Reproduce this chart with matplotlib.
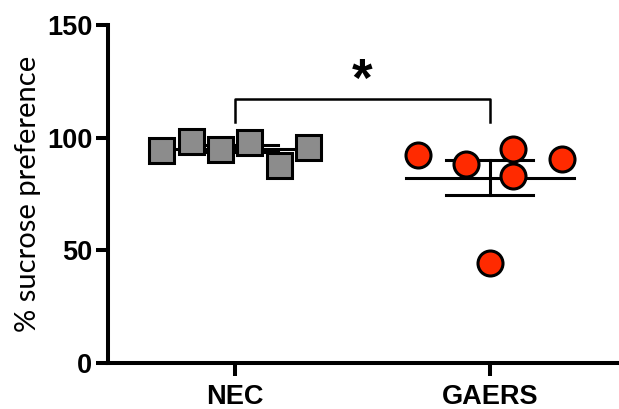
import numpy as np
import matplotlib.pyplot as plt

groups = ["NEC", "GAERS"]
nec = [94.7, 98.4, 95.0, 98.1, 88.0, 95.7]
gaers = [92.4, 88.4, 94.8, 82.8, 90.7, 44.3]
nec_offsets = [-0.29, -0.173, -0.059, 0.056, 0.171, 0.285]
gaers_offsets = [-0.283, -0.095, 0.093, 0.093, 0.283, 0.0]

fig = plt.figure(figsize=(6.19, 4.09), dpi=100)
ax = fig.add_axes([0.174, 0.1125, 0.823, 0.8265])

tickfont = dict(family="Liberation Sans", weight="bold", size=19.5)

# mean +/- SEM lines, drawn under the points
for i, vals in enumerate([nec, gaers]):
    v = np.array(vals)
    m = v.mean()
    sem = v.std(ddof=1) / np.sqrt(len(v))
    ax.plot([i - 0.33, i + 0.33], [m, m], color="black", lw=2.2, zorder=2)
    ax.plot([i, i], [m - sem, m + sem], color="black", lw=2.2, zorder=2)
    for y in (m - sem, m + sem):
        ax.plot([i - 0.17, i + 0.17], [y, y], color="black", lw=2.2, zorder=2)

ax.plot(np.array(nec_offsets), nec, linestyle="none", marker="s", ms=18,
        mfc="#8c8c8c", mec="black", mew=2.2, zorder=3)
ax.plot(1 + np.array(gaers_offsets), gaers, linestyle="none", marker="o", ms=18,
        mfc="#ff2a00", mec="black", mew=2.2, zorder=3)

# significance bracket
ax.plot([0, 0, 1, 1], [107, 117.3, 117.3, 107], color="black", lw=1.8,
        clip_on=False)
ax.text(0.5, 124.5, "*", ha="center", va="center", fontsize=38,
        fontweight="bold", family="Liberation Sans")

ax.set_xlim(-0.5, 1.5)
ax.set_ylim(0, 150)
ax.set_yticks([0, 50, 100, 150])
ax.set_xticks([0, 1])
ax.set_xticklabels(groups, fontdict=tickfont)
ax.set_yticklabels(["0", "50", "100", "150"], fontdict=tickfont)
ax.tick_params(axis="both", width=2.9, length=9, pad=2)
ax.tick_params(axis="x", pad=6)

for s in ["top", "right"]:
    ax.spines[s].set_visible(False)
for s in ["left", "bottom"]:
    ax.spines[s].set_linewidth(2.9)

ax.set_ylabel("% sucrose preference", fontsize=21, family="Lato", labelpad=4)

fig.savefig("out.png", dpi=100)
